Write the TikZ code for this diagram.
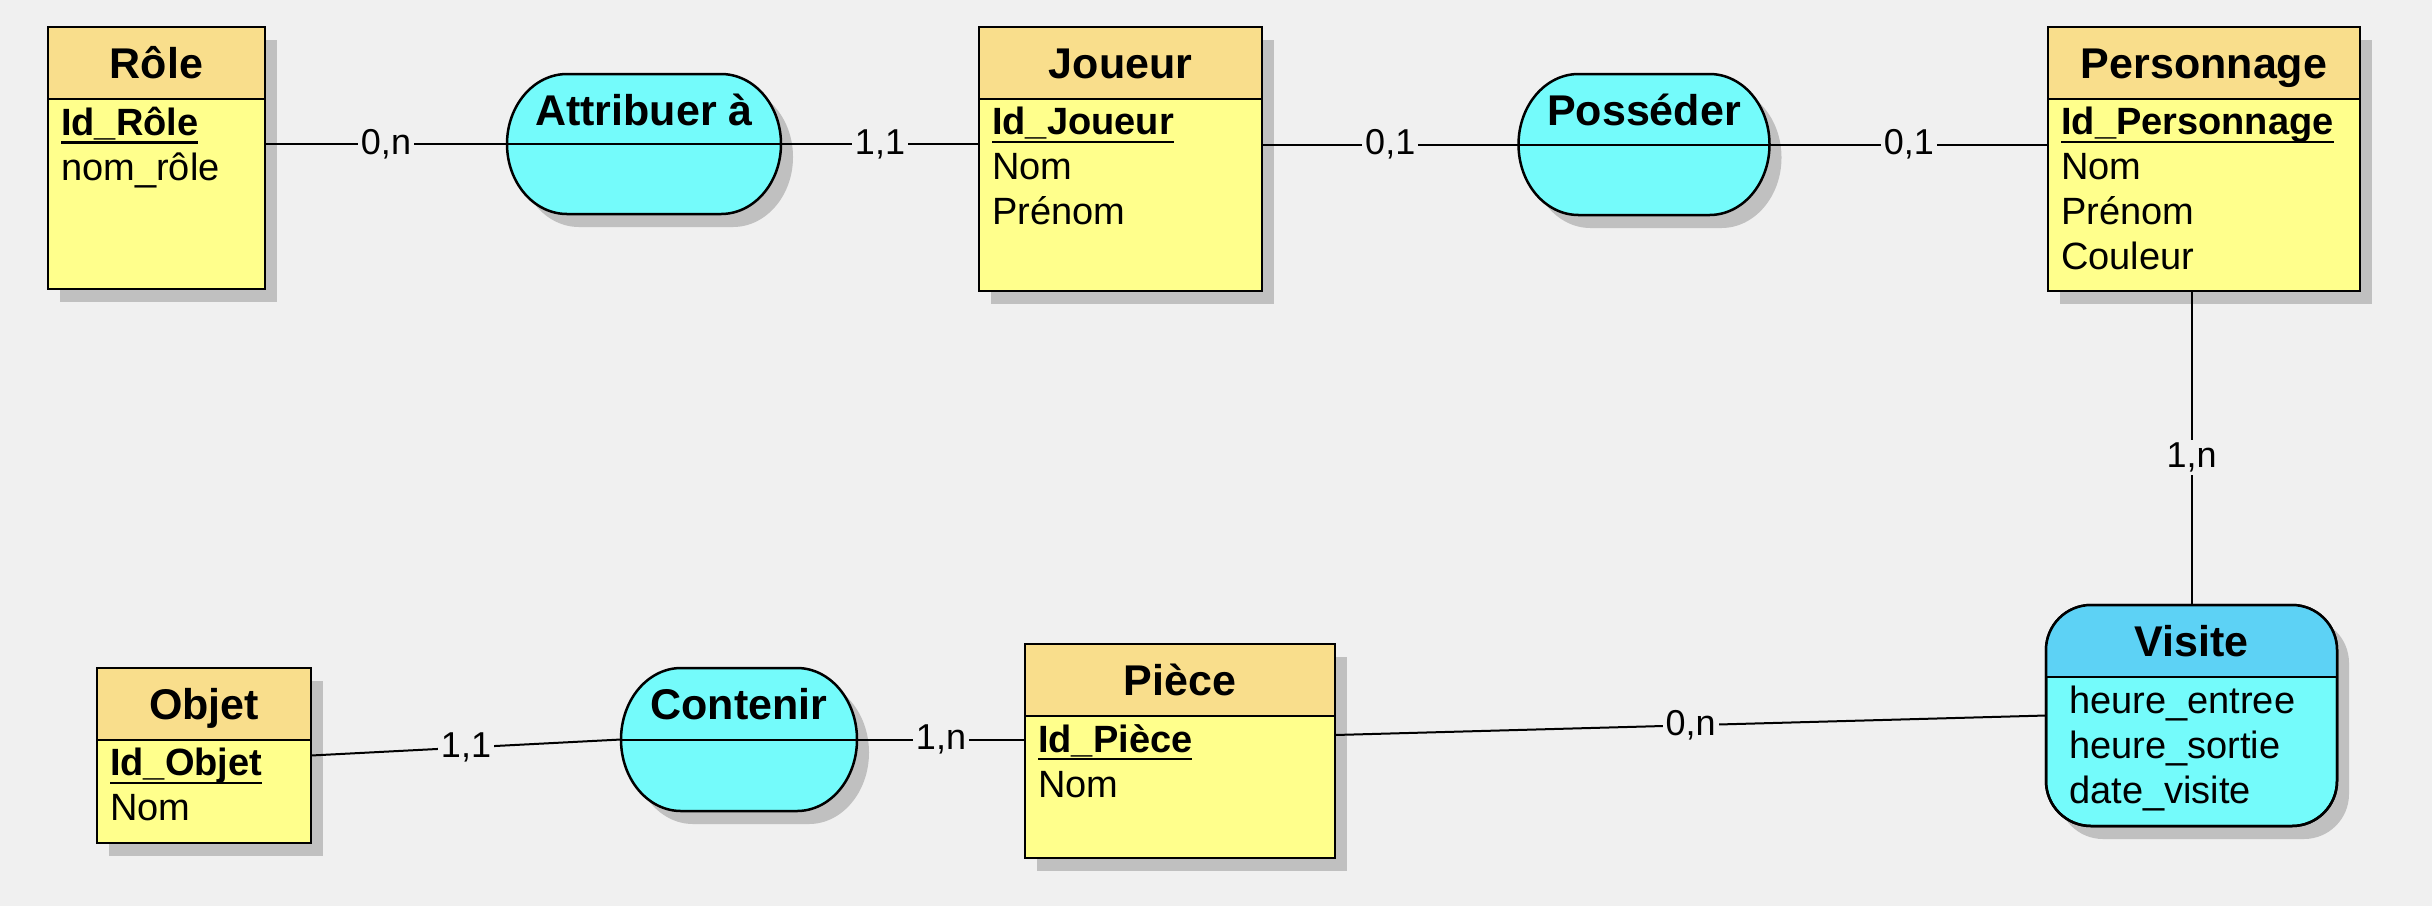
\documentclass[tikz,border=0pt]{standalone}
\usepackage{fontspec}
\setmainfont{Liberation Sans}
\usetikzlibrary{shadows}

\definecolor{bgcol}{HTML}{F0F0F0}
\definecolor{shadowcol}{HTML}{C0C0C0}
\definecolor{headcol}{HTML}{F9DE8C}
\definecolor{bodycol}{HTML}{FFFF8C}
\definecolor{relcol}{HTML}{74FBFB}
\definecolor{relheadcol}{HTML}{5DD2F5}

% identifiant : gras et souligne
\newcommand{\keyattr}[1]{\textbf{\setbox0\hbox{#1}\rlap{\rule[-8pt]{\wd0}{2.2pt}}\box0}}

\begin{document}
\begin{tikzpicture}[x = 1pt, y = -1pt,
    entity/.style = {draw, line width = 2.5pt, fill = bodycol, inner sep = 0pt, outer sep = 0pt, anchor = north west,
        drop shadow = {shadow xshift = 12pt, shadow yshift = -13pt, fill = shadowcol, opacity = 1}},
    entityhead/.style = {draw, line width = 2.5pt, fill = headcol, inner sep = 0pt, outer sep = 0pt, anchor = north west,
        minimum height = 72pt, text height = 31pt, text depth = 0pt, font = \fontsize{43}{50}\selectfont\bfseries},
    attrs/.style = {inner sep = 0pt, anchor = north west, align = left, font = \fontsize{38}{45}\selectfont},
    relation/.style = {inner sep = 0pt, outer sep = 0pt},
    relshape/.style = {draw, line width = 2.5pt, fill = relcol,
        drop shadow = {shadow xshift = 12pt, shadow yshift = -13pt, fill = shadowcol, opacity = 1}},
    reltitle/.style = {inner sep = 0pt, text height = 31pt, text depth = 0pt, font = \fontsize{43}{50}\selectfont\bfseries},
    link/.style = {line width = 2pt},
    card/.style = {fill = bgcol, inner sep = 3pt, font = \fontsize{36}{40}\selectfont}]
    \fill[bgcol] (0,0) rectangle (2432,906);
    \useasboundingbox (0,0) rectangle (2432,906);

    % entites
    \node[entity, minimum width = 217pt, minimum height = 262pt] (role) at (48,27) {};
    \node[entityhead, minimum width = 217pt] (rolehead) at (role.north west) {Rôle};
    \node[attrs] (roleattr) at ([xshift = 13pt, yshift = -8pt]rolehead.south west) {\keyattr{Id\_Rôle}\\nom\_rôle};

    \node[entity, minimum width = 283pt, minimum height = 264pt] (joueur) at (979,27) {};
    \node[entityhead, minimum width = 283pt] (joueurhead) at (joueur.north west) {Joueur};
    \node[attrs] (joueurattr) at ([xshift = 13pt, yshift = -8pt]joueurhead.south west) {\keyattr{Id\_Joueur}\\Nom\\Prénom};

    \node[entity, minimum width = 312pt, minimum height = 264pt] (perso) at (2048,27) {};
    \node[entityhead, minimum width = 312pt] (persohead) at (perso.north west) {Personnage};
    \node[attrs] (persoattr) at ([xshift = 13pt, yshift = -8pt]persohead.south west) {\keyattr{Id\_Personnage}\\Nom\\Prénom\\Couleur};

    \node[entity, minimum width = 214pt, minimum height = 175pt] (objet) at (97,668) {};
    \node[entityhead, minimum width = 214pt] (objethead) at (objet.north west) {Objet};
    \node[attrs] (objetattr) at ([xshift = 13pt, yshift = -8pt]objethead.south west) {\keyattr{Id\_Objet}\\Nom};

    \node[entity, minimum width = 310pt, minimum height = 214pt] (piece) at (1025,644) {};
    \node[entityhead, minimum width = 310pt] (piecehead) at (piece.north west) {Pièce};
    \node[attrs] (pieceattr) at ([xshift = 13pt, yshift = -8pt]piecehead.south west) {\keyattr{Id\_Pièce}\\Nom};

    % associations
    \node[relation, minimum width = 274pt, minimum height = 140pt] (attrib) at (644,144) {};
    \draw[relshape] ([xshift = 60pt]attrib.north west) -- ([xshift = -60pt]attrib.north east)
        arc[start angle = 90, end angle = -90, x radius = 60pt, y radius = 70pt] -- ([xshift = 60pt]attrib.south west)
        arc[start angle = 270, end angle = 90, x radius = 60pt, y radius = 70pt] -- cycle;
    \draw[link] (attrib.west) -- (attrib.east);
    \node[reltitle] (attribtitle) at ([yshift = 34pt]attrib.center) {Attribuer à};

    \node[relation, minimum width = 251pt, minimum height = 141pt] (posseder) at (1644,144.5) {};
    \draw[relshape] ([xshift = 60pt]posseder.north west) -- ([xshift = -60pt]posseder.north east)
        arc[start angle = 90, end angle = -90, x radius = 60pt, y radius = 70.5pt] -- ([xshift = 60pt]posseder.south west)
        arc[start angle = 270, end angle = 90, x radius = 60pt, y radius = 70.5pt] -- cycle;
    \draw[link] (posseder.west) -- (posseder.east);
    \node[reltitle] (possedertitle) at ([yshift = 35pt]posseder.center) {Posséder};

    \node[relation, minimum width = 236pt, minimum height = 143pt] (contenir) at (739,739.5) {};
    \draw[relshape] ([xshift = 60pt]contenir.north west) -- ([xshift = -60pt]contenir.north east)
        arc[start angle = 90, end angle = -90, x radius = 60pt, y radius = 71.5pt] -- ([xshift = 60pt]contenir.south west)
        arc[start angle = 270, end angle = 90, x radius = 60pt, y radius = 71.5pt] -- cycle;
    \draw[link] (contenir.west) -- (contenir.east);
    \node[reltitle] (contenirtitle) at ([yshift = 36pt]contenir.center) {Contenir};

    \node[entity, fill = relcol, rounded corners = 45pt, minimum width = 291pt, minimum height = 221pt] (visite) at (2046,605) {};
    \begin{scope}
        \clip[rounded corners = 45pt] (visite.north west) rectangle (visite.south east);
        \fill[relheadcol] (visite.north west) rectangle ([yshift = -72pt]visite.north east);
    \end{scope}
    \draw[line width = 2.5pt, rounded corners = 45pt] (visite.north west) rectangle (visite.south east);
    \draw[line width = 2.5pt] ([yshift = -72pt]visite.north west) -- ([yshift = -72pt]visite.north east);
    \node[reltitle] (visitetitle) at ([yshift = -36pt]visite.north) {Visite};
    \node[attrs] (visiteattr) at ([xshift = 23pt, yshift = -81pt]visite.north west) {heure\_entree\\heure\_sortie\\date\_visite};

    % liens
    \draw[link] (role.east |- attrib.west) -- node[card] (cardrole) {0,n} (attrib.west);
    \draw[link] (attrib.east) -- node[card] (cardjoueurA) {1,1} (attrib.east -| joueur.west);
    \draw[link] (joueur.east |- posseder.west) -- node[card] (cardjoueurP) {0,1} (posseder.west);
    \draw[link] (posseder.east) -- node[card] (cardperso) {0,1} (posseder.east -| perso.west);
    \draw[link] (visite.north |- perso.south) -- node[card, pos = 0.53] (cardpersoV) {1,n} (visite.north);
    \draw[link] (objet.east) -- node[card] (cardobjet) {1,1} (contenir.west);
    \draw[link] (contenir.east) -- node[card] (cardpieceC) {1,n} (contenir.east -| piece.west);
    \draw[link] ([yshift = 16pt]piece.east) -- node[card] (cardpieceV) {0,n} (visite.west);
\end{tikzpicture}
\end{document}
